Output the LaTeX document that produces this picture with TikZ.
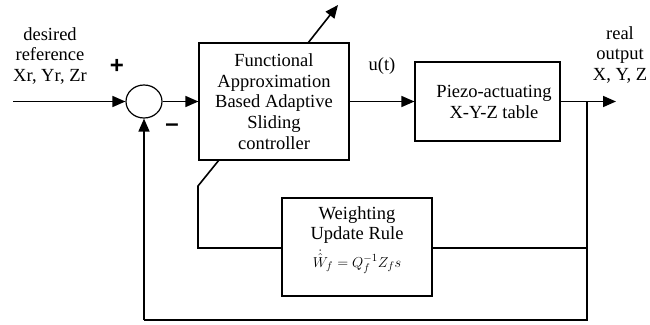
\documentclass[tikz,border=0pt]{standalone}
\usepackage{fontspec}
\setmainfont{Liberation Serif}
\newfontfamily\signfont{Liberation Sans}
\usetikzlibrary{shapes.geometric,arrows.meta}
\begin{document}
\begin{tikzpicture}[x=1pt,y=-1pt,
  blk/.style={draw,line width=1.2pt,minimum width=#1},
  conn/.style={line width=1.6pt},
  arr/.style={conn,-{Triangle[length=13pt,width=11pt]}},
  txt/.style={font=\fontsize{18.5}{20.7}\selectfont,align=center,inner sep=0pt},
  sgn/.style={font=\signfont\fontsize{24}{24}\selectfont\bfseries,inner sep=0pt}]
\useasboundingbox (0,0) rectangle (650,324);
% summing junction
\node[draw,ellipse,line width=1.2pt,minimum width=36pt,minimum height=33pt,inner sep=0pt] (sum) at (144,101.5) {};
% controller
\node[blk=150pt,minimum height=117pt,txt] (ctrl) at (274,101.5)
  {Functional\\Approximation\\Based Adaptive\\Sliding\\controller};
% plant
\node[blk=145pt,minimum height=79pt] (plant) at (487.5,101.5) {};
\node[txt] (plantlbl) at (494,102) {Piezo-actuating\\X-Y-Z table};
% weighting update
\node[blk=150pt,minimum height=98pt] (wur) at (357,247) {};
\node[txt] (wurlbl) at (357,225) {Weighting\\Update Rule};
\node[inner sep=0pt,font=\fontsize{15}{15}\selectfont] (eq) at (357,262) {$\dot{\hat{W}}_{\!f} = Q_f^{-1} Z_f s$};
% labels
\node[txt] (inlbl) at (50,56) {desired\\reference\\Xr, Yr, Zr};
\node[txt] (outlbl) at (620,55) {real\\output\\X, Y, Z};
\node[txt] (ulbl) at (382,66) {u(t)};
\node[sgn] (plus) at (117,66) {+};
\node[sgn] (minus) at (172,128) {–};
% coordinates
\coordinate (in) at (13,101.5);
\coordinate (out) at (616,101.5);
\coordinate (br) at (587,101.5);
\coordinate (fb) at (587,320);
\coordinate (fbl) at (144,320);
\coordinate (ca) at (219,160);
\coordinate (cb) at (198,186);
\coordinate (cc) at (198,248);
\coordinate (wr) at (587,248);
\coordinate (d1) at (308,43);
\coordinate (d2) at (338,5);
% connectors
\draw[arr] (in) -- (sum.west);
\draw[arr] (sum.east) -- (ctrl.west);
\draw[arr] (ctrl.east |- sum.east) -- (plant.west);
\draw[arr] (plant.east) -- (out);
\draw[conn] (br) -- (fb) -- (fbl);
\draw[arr] (fbl) -- (sum.south);
\draw[arr] (d1) -- (d2);
\draw[conn] (ca) -- (cb) -- (cc) -- (wur.west |- cc);
\draw[conn] (wur.east |- wr) -- (wr);
\end{tikzpicture}
\end{document}
